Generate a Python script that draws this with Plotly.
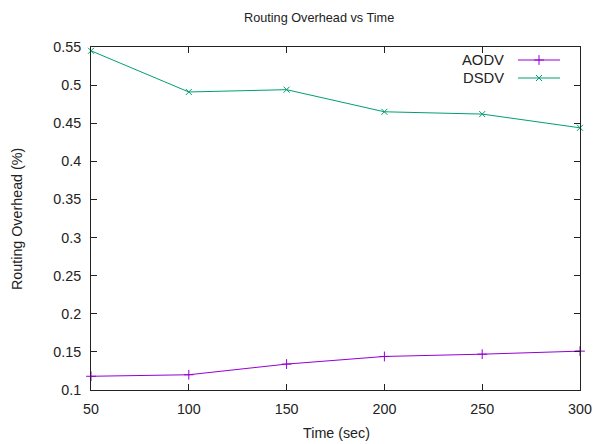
import plotly.graph_objects as go

time_sec = [50, 100, 150, 200, 250, 300]
aodv = [0.118, 0.120, 0.134, 0.144, 0.147, 0.151]
dsdv = [0.545, 0.491, 0.494, 0.465, 0.462, 0.444]
x_ticks = [50, 100, 150, 200, 250, 300]
y_ticks = [0.1, 0.15, 0.2, 0.25, 0.3, 0.35, 0.4, 0.45, 0.5, 0.55]
y_tick_text = ["0.1", "0.15", "0.2", "0.25", "0.3", "0.35", "0.4", "0.45", "0.5", "0.55"]

C_AODV = "#9400d3"
C_DSDV = "#009e73"
FONT = "Liberation Sans, Arial, sans-serif"
TXT = "#222"

W, H = 593, 444
ML, MR, MT, MB = 91, 13, 47, 54

fig = go.Figure()
fig.add_trace(go.Scatter(x=time_sec, y=aodv, mode="lines+markers", name="AODV",
                         line=dict(color=C_AODV, width=1),
                         marker=dict(symbol="cross-thin", size=7, line=dict(color=C_AODV, width=1)),
                         showlegend=False, cliponaxis=False))
fig.add_trace(go.Scatter(x=time_sec, y=dsdv, mode="lines+markers", name="DSDV",
                         line=dict(color=C_DSDV, width=1),
                         marker=dict(symbol="x-thin", size=6, line=dict(color=C_DSDV, width=1)),
                         showlegend=False, cliponaxis=False))

pw = W - ML - MR
ph = H - MT - MB
def px(x):
    return (x - ML) / pw
def py(y):
    return 1 - (y - MT) / ph

legend_items = [("AODV", C_AODV, "cross-thin", 7, 60), ("DSDV", C_DSDV, "x-thin", 6, 78)]
for name, col, sym, sz, ypix in legend_items:
    fig.add_trace(go.Scatter(x=[px(518), px(539), px(560)], y=[py(ypix)] * 3,
                             xaxis="x2", yaxis="y2", mode="lines+markers",
                             line=dict(color=col, width=1),
                             marker=dict(symbol=sym, size=sz, line=dict(color=col, width=1),
                                         opacity=[0, 1, 0]),
                             showlegend=False, hoverinfo="skip", cliponaxis=False))
    fig.add_annotation(x=px(506), y=py(ypix), xref="paper", yref="paper",
                       text=name, showarrow=False, xanchor="right", yanchor="middle",
                       font=dict(family=FONT, size=14.8, color=TXT))

# title and axis titles
fig.add_annotation(x=px(319), y=py(18), xref="paper", yref="paper", text="Routing Overhead vs Time",
                   showarrow=False, xanchor="center", yanchor="middle",
                   font=dict(family=FONT, size=12.7, color=TXT))
fig.add_annotation(x=px(336), y=py(433), xref="paper", yref="paper", text="Time (sec)",
                   showarrow=False, xanchor="center", yanchor="middle",
                   font=dict(family=FONT, size=14.3, color=TXT))
fig.add_annotation(x=px(17), y=py(219), xref="paper", yref="paper", text="Routing Overhead (%)",
                   showarrow=False, xanchor="center", yanchor="middle", textangle=-90,
                   font=dict(family=FONT, size=14.3, color=TXT))

fig.update_layout(
    width=W, height=H,
    margin=dict(l=ML, r=MR, t=MT, b=MB, autoexpand=False),
    paper_bgcolor="white", plot_bgcolor="white",
    font=dict(family=FONT, size=14.3, color=TXT),
    xaxis=dict(range=[50, 300], tickvals=x_ticks, ticks="inside", ticklen=6, tickcolor=TXT,
               showline=True, linecolor=TXT, linewidth=1, mirror="ticks", showgrid=False,
               zeroline=False, automargin=False, ticklabeloverflow="allow",
               ticklabelstandoff=6, tickfont=dict(size=14.3)),
    yaxis=dict(range=[0.1, 0.55], tickvals=y_ticks, ticktext=y_tick_text, ticks="inside",
               ticklen=6, tickcolor=TXT, showline=True, linecolor=TXT, linewidth=1,
               mirror="ticks", showgrid=False, zeroline=False, automargin=False,
               ticklabeloverflow="allow", ticklabelstandoff=6, tickfont=dict(size=14.3)),
    xaxis2=dict(range=[0, 1], overlaying="x", visible=False, fixedrange=True),
    yaxis2=dict(range=[0, 1], overlaying="y", visible=False, fixedrange=True),
    showlegend=False,
)

fig.write_html("out.html", config={"displayModeBar": False},
               post_script="document.body.style.margin='0';document.body.style.overflow='hidden';")
